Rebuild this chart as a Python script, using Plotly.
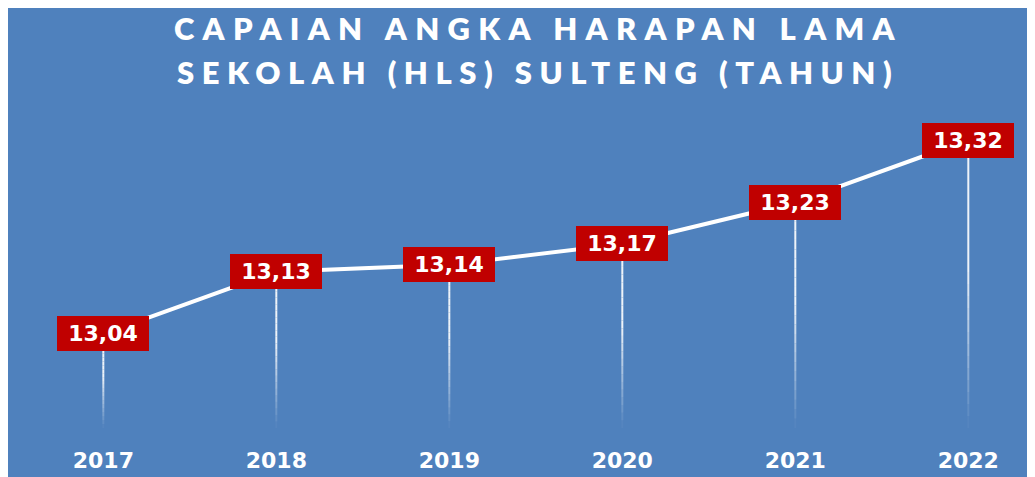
import plotly.graph_objects as go

years = ["2017", "2018", "2019", "2020", "2021", "2022"]
hls = [13.04, 13.13, 13.14, 13.17, 13.23, 13.32]
labels = ["13,04", "13,13", "13,14", "13,17", "13,23", "13,32"]
title_lines = ["CAPAIAN ANGKA HARAPAN LAMA", "SEKOLAH (HLS) SULTENG (TAHUN)"]

# page body has an 8px margin -> figure fills the rest of the window
W, H = 1027, 469
ML, MR, MT, MB = 0, 0, 102, 49
BLUE = "#4F81BD"
RED = "#C00000"
YMIN, YMAX = 12.9043, 13.3633
XMIN, XMAX = -0.551, 5.3855

xs = list(range(len(years)))

fig = go.Figure()

# drop lines with fading gradient
N = 24
shapes = []
for xi, v in zip(xs, hls):
    total = v - YMIN
    for k in range(N):
        f0 = k / N
        f1 = (k + 1) / N
        fm = (f0 + f1) / 2
        op = 1.0 if fm < 0.45 else max(0.0, 1 - (fm - 0.45) / 0.55)
        op = 0.9 * op
        shapes.append(dict(type="line", xref="x", yref="y",
                           x0=xi, x1=xi, y0=v - total * f0, y1=v - total * f1,
                           line=dict(color=f"rgba(255,255,255,{op:.3f})", width=2),
                           layer="below"))

fig.add_trace(go.Scatter(x=xs, y=hls, mode="lines",
                         line=dict(color="white", width=4),
                         hoverinfo="skip", showlegend=False))

annotations = []
for xi, v, t in zip(xs, hls, labels):
    annotations.append(dict(x=xi, y=v, xref="x", yref="y", text=f"<b>{t}</b>",
                            showarrow=False, bgcolor=RED, width=84, height=27,
                            borderpad=4, borderwidth=0,
                            font=dict(family="DejaVu Sans", size=22, color="white"),
                            xanchor="center", yanchor="middle"))

ph = H - MT - MB
def ypaper(py):
    return (H - MB - py) / ph

spacings = [8.3, 7.5]
ycent = [20, 64]
for line, sp, yc in zip(title_lines, spacings, ycent):
    annotations.append(dict(x=(526.5 + sp / 2) / W, y=ypaper(yc), xref="paper", yref="paper",
                            text=f"<span style=\"letter-spacing:{sp}px\">{line}</span>",
                            showarrow=False, xanchor="center", yanchor="middle",
                            font=dict(family="Lato", size=31, color="white", weight=800)))

fig.update_layout(
    width=W, height=H,
    margin=dict(l=ML, r=MR, t=MT, b=MB, pad=0),
    paper_bgcolor=BLUE, plot_bgcolor=BLUE,
    shapes=shapes, annotations=annotations,
    showlegend=False,
    xaxis=dict(range=[XMIN, XMAX], tickmode="array", tickvals=xs, ticktext=[f"<b>{y}</b>" for y in years],
               showgrid=False, zeroline=False, showline=False, ticks="",
               tickfont=dict(family="DejaVu Sans", size=22, color="white"),
               ticklabelstandoff=17),
    yaxis=dict(range=[YMIN, YMAX], showgrid=False, zeroline=False, showline=False,
               showticklabels=False, ticks=""),
)

fig.write_html("out.html")
